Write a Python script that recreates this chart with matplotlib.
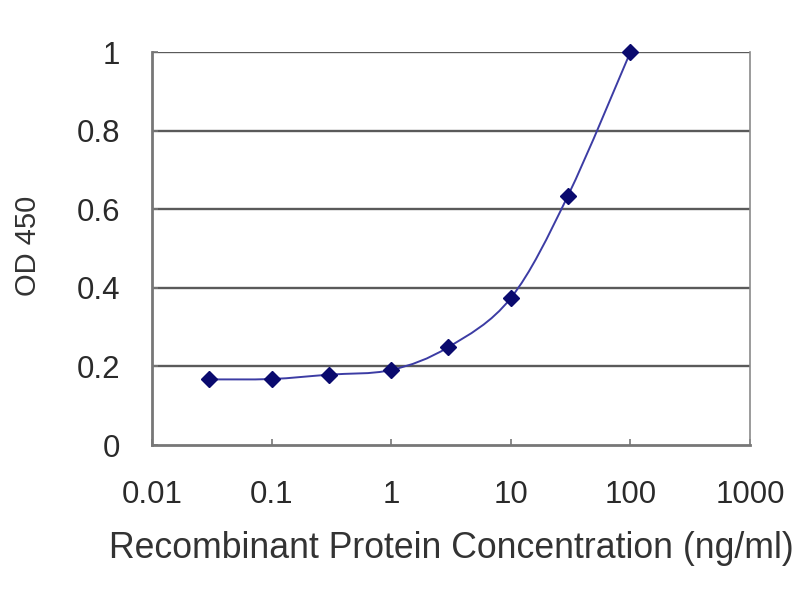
import numpy as np
import matplotlib
matplotlib.use("Agg")
import matplotlib.pyplot as plt
from matplotlib.path import Path
from matplotlib.patches import PathPatch

plt.rcParams['font.family'] = ['Liberation Sans', 'DejaVu Sans']

conc = [0.03, 0.1, 0.3, 1, 3, 10, 30, 100]
od450 = [0.167, 0.168, 0.179, 0.191, 0.249, 0.374, 0.634, 1.0]
xticks = [0.01, 0.1, 1, 10, 100, 1000]
xticklabels = ['0.01', '0.1', '1', '10', '100', '1000']
yticks = [0, 0.2, 0.4, 0.6, 0.8, 1.0]
yticklabels = ['0', '0.2', '0.4', '0.6', '0.8', '1']

fig = plt.figure(figsize=(8, 6), dpi=100)
ax = fig.add_axes([0.19, 0.2583, 0.7475, 0.655])
ax.set_xscale('log')
ax.set_xlim(0.01, 1000)
ax.set_ylim(0, 1)

grid_c = '#5a5a5a'
for v in yticks[1:]:
    ax.axhline(v, color=grid_c, lw=1.7, zorder=1)

# Smoothed line (Catmull-Rom style Bezier in log-x space, as a spreadsheet "smoothed line")
u = np.log10(np.array(conc, dtype=float))
y = np.array(od450, dtype=float)
n = len(u)
verts = [(10 ** u[0], y[0])]
codes = [Path.MOVETO]
for i in range(n - 1):
    u0, y0 = (u[i - 1], y[i - 1]) if i > 0 else (u[i], y[i])
    u3, y3 = (u[i + 2], y[i + 2]) if i + 2 < n else (u[i + 1], y[i + 1])
    c1u = u[i] + (u[i + 1] - u0) / 6.0
    c1y = y[i] + (y[i + 1] - y0) / 6.0
    c2u = u[i + 1] - (u3 - u[i]) / 6.0
    c2y = y[i + 1] - (y3 - y[i]) / 6.0
    verts += [(10 ** c1u, c1y), (10 ** c2u, c2y), (10 ** u[i + 1], y[i + 1])]
    codes += [Path.CURVE4] * 3
patch = PathPatch(Path(verts, codes), facecolor='none', edgecolor='#3c3ca4', lw=1.4, zorder=3, clip_on=False)
ax.add_patch(patch)

ax.plot(conc, od450, linestyle='none', marker='D', markersize=8.5, color='#0a0a6e',
        markeredgecolor='#0a0a6e', zorder=4, clip_on=False)

ax.set_xticks(xticks)
ax.set_xticklabels(xticklabels)
ax.minorticks_off()
ax.set_yticks(yticks)
ax.set_yticklabels(yticklabels)
ax.tick_params(axis='both', direction='in', length=4, width=1.2, color='#777777',
               labelsize=22.5, labelcolor='#2a2a2a')
ax.tick_params(axis='x', pad=25)
ax.tick_params(axis='y', pad=23)

for side in ['left', 'bottom']:
    ax.spines[side].set_color('#777777')
    ax.spines[side].set_linewidth(2.0)
ax.spines['right'].set_color('#8a8a8a')
ax.spines['right'].set_linewidth(1.2)
ax.spines['top'].set_visible(False)

fig.text(451 / 800, 1 - 548 / 600, 'Recombinant Protein Concentration (ng/ml)',
         fontsize=25.7, color='#333333', ha='center', va='center')
fig.text(28 / 800, 1 - 246 / 600, 'OD 450', rotation=90,
         fontsize=21, color='#333333', ha='center', va='center')

fig.savefig('out.png', dpi=100, facecolor='white')
